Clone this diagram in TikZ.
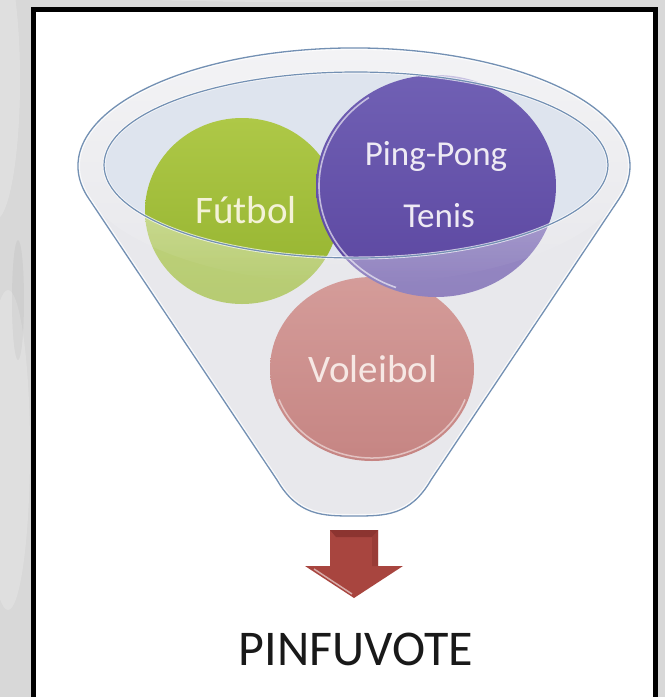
\documentclass[tikz,border=0pt]{standalone}
\usepackage{fontspec}
\setmainfont{Carlito}
\usetikzlibrary{fadings}
\definecolor{bggray}{HTML}{D8D8D8}
\definecolor{bodyfill}{HTML}{DDDEE4}
\definecolor{innerfill}{HTML}{DEE4EE}
\definecolor{funnelline}{HTML}{7390B3}
\definecolor{greenTop}{HTML}{AEC847}
\definecolor{greenBase}{HTML}{93B22E}
\definecolor{purpleTop}{HTML}{7060B4}
\definecolor{purpleBase}{HTML}{5B46A0}
\definecolor{redTop}{HTML}{C06C68}
\definecolor{redBase}{HTML}{AA4A47}
\definecolor{arrowred}{HTML}{A8453F}
\definecolor{arrowdark}{HTML}{8C3430}
\definecolor{cream}{HTML}{F4F2D8}
\definecolor{lilacw}{HTML}{EEEAF4}
\definecolor{rosew}{HTML}{F6E8E4}
\tikzset{
  balltext/.style={anchor=base, inner sep=0pt},
  funneledge/.style={draw=funnelline, line width=1.3pt},
}
\def\funnelpath{(277,-480) -- (88.7,-198.5) arc[start angle=196, end angle=-16, x radius=276pt, y radius=118pt] -- (431,-480) .. controls (410,-516) and (385,-516) .. (354,-516) .. controls (323,-516) and (298,-516) .. (277,-480) -- cycle}
\def\innerpath{(356,-165) ellipse[x radius=252pt, y radius=93pt]}
\begin{document}
\begin{tikzpicture}[x=1pt,y=1pt]
\useasboundingbox (0,0) rectangle (665,-697);
\clip (0,0) rectangle (665,-697);
% marbled background
\fill[bggray] (0,0) rectangle (665,-697);
\fill[white,opacity=0.2] (-5,-80) ellipse[x radius=25pt, y radius=140pt];
\fill[white,opacity=0.18] (8,-450) ellipse[x radius=22pt, y radius=160pt];
\fill[white,opacity=0.2] (300,6) ellipse[x radius=220pt, y radius=8pt];
\fill[black,opacity=0.04] (18,-300) ellipse[x radius=6pt, y radius=60pt];
% white panel with black frame
\fill[white] (33.5,-9.5) rectangle (655.5,-720);
\draw[black, line width=5pt] (33.5,-720) -- (33.5,-9.5) -- (655.5,-9.5) -- (655.5,-720);
% funnel back
\fill[bodyfill] \funnelpath;
\fill[innerfill] \innerpath;
% balls
\shade[top color=greenTop, bottom color=greenBase] (242,-211) ellipse[x radius=97pt, y radius=93pt];
\shade[top color=redTop, bottom color=redBase] (372,-369) ellipse[x radius=102pt, y radius=92pt];
\draw[white, opacity=0.5, line width=1.5pt] (372,-369) ++(200:99pt and 89pt) arc[start angle=200, end angle=340, x radius=99pt, y radius=89pt];
\shade[top color=purpleTop, bottom color=purpleBase] (436,-186) ellipse[x radius=120pt, y radius=111pt];
\draw[white, opacity=0.6, line width=1.6pt] (436,-186) ++(125:117pt and 108pt) arc[start angle=125, end angle=250, x radius=117pt, y radius=108pt];
% glass overlay on front part of funnel
\fill[white, opacity=0.33, even odd rule] \funnelpath \innerpath;
\fill[white, opacity=0.5, even odd rule, path fading=south] (354,-166) ellipse[x radius=276pt, y radius=118pt] \innerpath;
% funnel outlines
\draw[white, opacity=0.8, line width=4pt] \funnelpath;
\draw[funneledge] \funnelpath;
\draw[white, opacity=0.7, line width=3pt] \innerpath;
\draw[funneledge, line width=1.2pt] \innerpath;
% labels
\node[balltext, font=\fontsize{39}{39}\selectfont, text=cream] (futbol) at (246,-223) {Fútbol};
\node[balltext, font=\fontsize{35}{35}\selectfont, text=lilacw] (ping) at (436,-165) {Ping-Pong};
\node[balltext, font=\fontsize{35}{35}\selectfont, text=lilacw] (tenis) at (439,-227) {Tenis};
\node[balltext, font=\fontsize{39}{39}\selectfont, text=rosew] (vol) at (373,-382) {Voleibol};
% arrow
\fill[arrowred] (330,-530) -- (378,-530) -- (378,-566) -- (403,-566) -- (354,-598) -- (305,-566) -- (330,-566) -- cycle;
\fill[arrowdark] (330,-530) -- (378,-530) -- (372,-537) -- (336,-537) -- cycle;
\fill[arrowdark, opacity=0.5] (372,-537) -- (378,-530) -- (378,-566) -- (372,-566) -- cycle;
\draw[white, opacity=0.55, line width=1.5pt] (314,-569) -- (352,-594);
\node[balltext, font=\fontsize{50}{50}\selectfont, text=black!90] (pin) at (356,-665) {PINFUVOTE};
\end{tikzpicture}
\end{document}
